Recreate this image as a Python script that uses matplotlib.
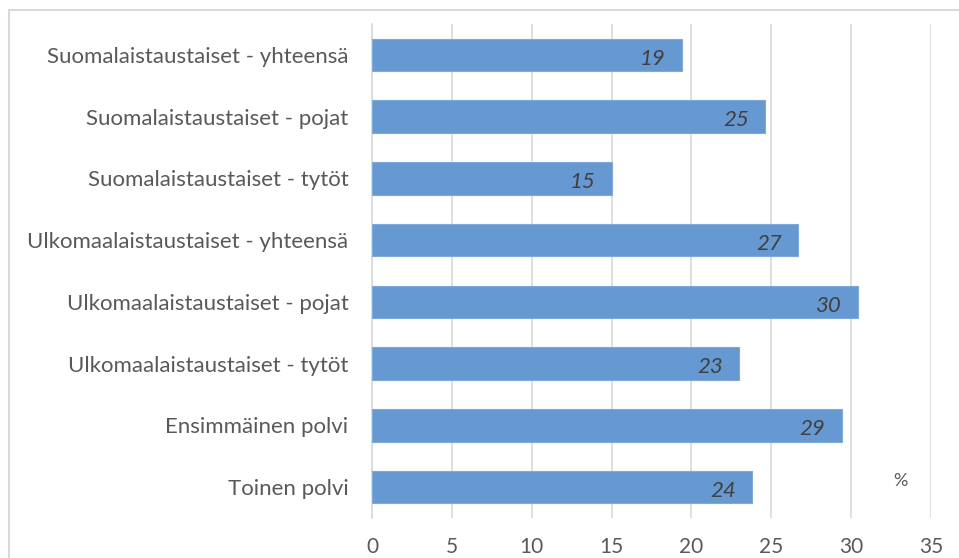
import matplotlib
matplotlib.use("Agg")
import matplotlib.pyplot as plt
from matplotlib.patches import Rectangle

categories = [
    "Suomalaistaustaiset - yhteensä",
    "Suomalaistaustaiset - pojat",
    "Suomalaistaustaiset - tytöt",
    "Ulkomaalaistaustaiset - yhteensä",
    "Ulkomaalaistaustaiset - pojat",
    "Ulkomaalaistaustaiset - tytöt",
    "Ensimmäinen polvi",
    "Toinen polvi",
]
values = [19.4, 24.6, 15.0, 26.7, 30.4, 23.0, 29.4, 23.8]
value_labels = ["19", "25", "15", "27", "30", "23", "29", "24"]
x_ticks = [0, 5, 10, 15, 20, 25, 30, 35]

plt.rcParams['font.family'] = ['Lato', 'DejaVu Sans']

W, H = 959, 558
fig = plt.figure(figsize=(W / 100, H / 100), dpi=100)

# outer chart frame
fig.patches.append(Rectangle((9 / W, -0.1), 1.2, 1 - 10 / H + 0.1,
                             transform=fig.transFigure, fill=False,
                             edgecolor="#d9d9d9", linewidth=1.5))

ax = fig.add_axes([372 / W, 1 - 518 / H, 559 / W, 494 / H])
ypos = list(range(len(categories)))
ax.barh(ypos, values, height=0.53, color="#6699d1", edgecolor="#7fa9da",
        linewidth=0.8, zorder=3)
ax.set_ylim(len(categories) - 0.5, -0.5)
ax.set_xlim(0, 35)
ax.set_xticks(x_ticks)
ax.set_xticklabels([str(t) for t in x_ticks])
ax.set_yticks(ypos)
ax.set_yticklabels(categories)
ax.grid(axis="x", color="#d9d9d9", linewidth=1.2, zorder=0)
ax.tick_params(axis="x", length=0, labelsize=15, colors="#595959", pad=14)
ax.tick_params(axis="y", length=0, labelsize=16, colors="#595959", pad=17)
for s in ["top", "right", "bottom"]:
    ax.spines[s].set_visible(False)
ax.spines["left"].set_color("#d9d9d9")
ax.spines["left"].set_linewidth(1.2)

for y, v, lab in zip(ypos, values, value_labels):
    ax.text(v - 1.0, y + 0.06, lab, ha="right", va="center", fontsize=16,
            style="italic", color="#404040", zorder=4)

fig.text(900 / W, 1 - 481 / H, "%", ha="center", va="center",
         fontsize=13, color="#595959")

fig.savefig("out.png", dpi=100)
